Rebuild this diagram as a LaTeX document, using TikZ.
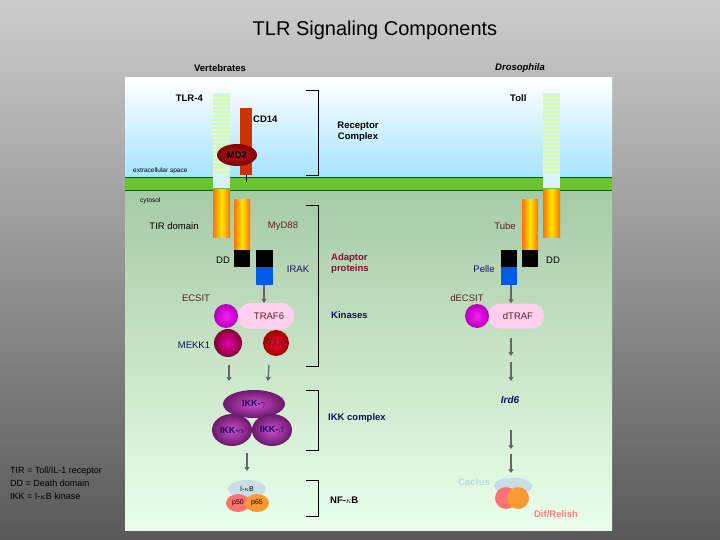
\documentclass[tikz,border=0pt]{standalone}
\usepackage{fontspec}
\setmainfont{Liberation Sans}
\usetikzlibrary{arrows.meta,shapes.geometric}
\definecolor{navy}{HTML}{101060}
\definecolor{brn}{HTML}{602020}
\definecolor{dred}{HTML}{801030}
\begin{document}
\begin{tikzpicture}[x=1pt,y=-1pt,
  lbl/.style={font=\fontsize{9.5}{11}\selectfont,inner sep=0pt},
  blbl/.style={lbl,font=\fontsize{9.5}{11}\selectfont\bfseries},
  arr/.style={draw=gray!80!black,line width=1.3pt,-{Triangle[length=4pt,width=5pt]}},
  brk/.style={draw=black,line width=0.8pt},
  rod/.style={left color=orange!90!red,right color=orange!90!red,middle color=yellow!80!orange},
  dd/.style={fill=black},
  bl/.style={fill=blue!60!cyan!90!black}]
\useasboundingbox (0,0) rectangle (720,540);
\shade[top color=black!20,bottom color=black!65] (0,0) rectangle (720,540);
% panel
\shade[top color=white,bottom color=blue!30!cyan!35] (125,78) rectangle (612,177);
\shade[top color=green!40!black!35!white,bottom color=green!8!white] (125,190) rectangle (612,530);
\fill[green!60!yellow!70!black!80] (125,177) rectangle (612,190);
\draw[green!40!black] (125,177) -- (612,177) (125,190) -- (612,190);
% titles
\node[font=\fontsize{20}{22}\selectfont] (title) at (375,30) {TLR Signaling Components};
\node[blbl] (vert) at (220,68) {Vertebrates};
\node[blbl,font=\fontsize{9.5}{11}\selectfont\bfseries\itshape] (dros) at (520,68) {Drosophila};
% receptors
\foreach \xx/\nm in {213/tlr,543/toll}{
  \fill[cyan!15] (\xx,93) rectangle (\xx+17,188);
  \foreach \yy in {95,99,...,173} \fill[green!40!yellow!40] (\xx,\yy) rectangle (\xx+17,\yy+2);
  \shade[rod] (\xx,190) rectangle (\xx+17,237);
}
\fill[orange!50!red!80!black] (240,108) rectangle (252,175);
\draw (246,175) -- (246,182);
\node[ellipse,shading=radial,inner color=red!70!black!90,outer color=red!50!black,minimum width=40pt,minimum height=22pt,inner sep=0pt,draw=none,font=\fontsize{9.5}{11}\selectfont\bfseries] (md2) at (237,155) {MD2};
\node[lbl,font=\fontsize{6.5}{7}\selectfont,anchor=west] (ecs) at (133,171) {extracellular space};
\node[lbl,font=\fontsize{6.5}{7}\selectfont,anchor=west] (cyt) at (140,201) {cytosol};
\node[blbl,anchor=east] (tlr4) at (203,98) {TLR-4};
\node[blbl,anchor=west] (cd14) at (253,119) {CD14};
\node[blbl,anchor=west] (toll) at (510,98) {Toll};
% MyD88
\shade[rod] (234,200) rectangle (250,250);
\fill[dd] (234,250) rectangle (250,267);
\fill[dd] (256,250) rectangle (273,267);
\fill[bl] (256,267) rectangle (273,285);
\coordinate (irak) at (264,285);
\node[lbl] (tir) at (174,226) {TIR domain};
\node[lbl,text=brn] (myd) at (283,226) {MyD88};
\node[lbl] (dd1) at (223,260) {DD};
\node[lbl,text=navy] (irakl) at (298,269) {IRAK};
\node[rounded corners=12pt,fill=pink!70!magenta!40,minimum width=56pt,minimum height=26pt,inner sep=0pt,lbl,text=brn] (traf6) at (266,316) {\hspace*{6pt}TRAF6};
\node[circle,shading=radial,inner color=magenta!90!white,outer color=magenta!70!black,minimum size=24pt,inner sep=0pt] (ecsit) at (226,316) {};
\node[lbl,text=brn] (ecsitl) at (196,298) {ECSIT};
\node[circle,shading=radial,inner color=magenta!60!purple,outer color=purple!70!black,minimum size=28pt,inner sep=0pt] (mekk) at (228,343) {};
\node[lbl,text=navy] (mekkl) at (194,345) {MEKK1};
\node[circle,shading=radial,inner color=red!80!magenta,outer color=red!60!black,minimum size=26pt,inner sep=0pt,lbl,text=brn] (tak) at (276,343) {TAK};
\draw[arr] (irak) -- (traf6.north -| irak);
\coordinate (a1) at (229,365); \coordinate (a1e) at (229,381);
\coordinate (a2) at (269,365); \coordinate (a2e) at (268,381);
\draw[arr] (a1) -- (a1e); \draw[arr] (a2) -- (a2e);
% IKK
\tikzset{ikk/.style={ellipse,shading=radial,inner color=violet!55!magenta!70,outer color=violet!70!black!90,inner sep=0pt,font=\fontsize{9}{10}\selectfont\bfseries,text=navy}}
\node[ikk,minimum width=62pt,minimum height=28pt] (ikkg) at (254,404) {IKK-$\gamma$};
\node[ikk,minimum width=40pt,minimum height=32pt] (ikka) at (232,430) {IKK-$\alpha$};
\node[ikk,minimum width=40pt,minimum height=32pt] (ikkb) at (272,430) {IKK-$\beta$};
\coordinate (a3) at (247,453); \coordinate (a3e) at (247,471);
\draw[arr] (a3) -- (a3e);
\node[ellipse,fill=cyan!25!teal!25!white,minimum width=38pt,minimum height=18pt,inner sep=0pt,font=\fontsize{7}{8}\selectfont] (ikb) at (247,489) {I-$\kappa$B};
\node[ellipse,fill=red!55!white,minimum width=24pt,minimum height=18pt,inner sep=0pt,font=\fontsize{7}{8}\selectfont] (p50) at (238,503) {p50};
\node[ellipse,fill=orange!80!white,minimum width=24pt,minimum height=18pt,inner sep=0pt,font=\fontsize{7}{8}\selectfont] (p65) at (257,503) {p65};
% brackets
\draw[brk] (306,90) -- (318,90) -- (318,175) -- (306,175);
\draw[brk] (306,205) -- (318,205) -- (318,366) -- (306,366);
\draw[brk] (306,390) -- (318,390) -- (318,450) -- (306,450);
\draw[brk] (306,480) -- (318,480) -- (318,516) -- (306,516);
\node[blbl,align=center] (rc) at (358,132) {Receptor\\Complex};
\node[blbl,align=left,text=dred,anchor=west] (adp) at (331,264) {Adaptor\\proteins};
\node[blbl,text=navy,anchor=west] (kin) at (331,315) {Kinases};
\node[blbl,text=navy,anchor=west] (ikkc) at (328,418) {IKK complex};
\node[blbl,anchor=west] (nfkb) at (330,500) {NF-$\kappa$B};
% Drosophila
\shade[rod] (522,200) rectangle (538,250);
\fill[dd] (522,250) rectangle (538,267);
\fill[dd] (501,250) rectangle (517,267);
\fill[bl] (501,267) rectangle (517,285);
\coordinate (pelle) at (511,285);
\node[lbl,text=brn] (tube) at (505,226) {Tube};
\node[lbl] (dd2) at (553,260) {DD};
\node[lbl,text=navy] (pellel) at (484,269) {Pelle};
\node[rounded corners=12pt,fill=pink!70!magenta!40,minimum width=56pt,minimum height=25pt,inner sep=0pt,lbl,text=brn] (dtraf) at (516,316) {\hspace*{4pt}dTRAF};
\node[circle,shading=radial,inner color=magenta!90!white,outer color=magenta!70!black,minimum size=24pt,inner sep=0pt] (decsit) at (477,316) {};
\node[lbl,text=brn] (decsitl) at (467,298) {dECSIT};
\draw[arr] (pelle) -- (dtraf.north -| pelle);
\coordinate (b1) at (511,338); \coordinate (b1e) at (511,356);
\coordinate (b2) at (511,362); \coordinate (b2e) at (511,381);
\coordinate (b3) at (511,430); \coordinate (b3e) at (511,449);
\coordinate (b4) at (511,454); \coordinate (b4e) at (511,473);
\draw[arr] (b1) -- (b1e); \draw[arr] (b2) -- (b2e);
\draw[arr] (b3) -- (b3e); \draw[arr] (b4) -- (b4e);
\node[blbl,font=\fontsize{10}{11}\selectfont\bfseries\itshape,text=navy] (ird6) at (510,400) {Ird6};
\node[ellipse,fill=cyan!25!teal!25!white,minimum width=38pt,minimum height=17pt,inner sep=0pt] (cactus) at (513,486) {};
\node[circle,fill=red!55!white,minimum size=22pt,inner sep=0pt] (dif) at (506,498) {};
\node[circle,fill=orange!80!white,minimum size=22pt,inner sep=0pt] (rel) at (518,498) {};
\node[blbl,text=cyan!30!teal!30!white] (cactl) at (474,482) {Cactus};
\node[blbl,text=red!50!white] (difl) at (556,514) {Dif/Relish};
% legend
\node[lbl,align=left,anchor=north west,font=\fontsize{9}{13}\selectfont] (leg) at (10,467) {TIR = Toll/IL-1 receptor\\DD = Death domain\\IKK = I-$\kappa$B kinase};
\end{tikzpicture}
\end{document}
